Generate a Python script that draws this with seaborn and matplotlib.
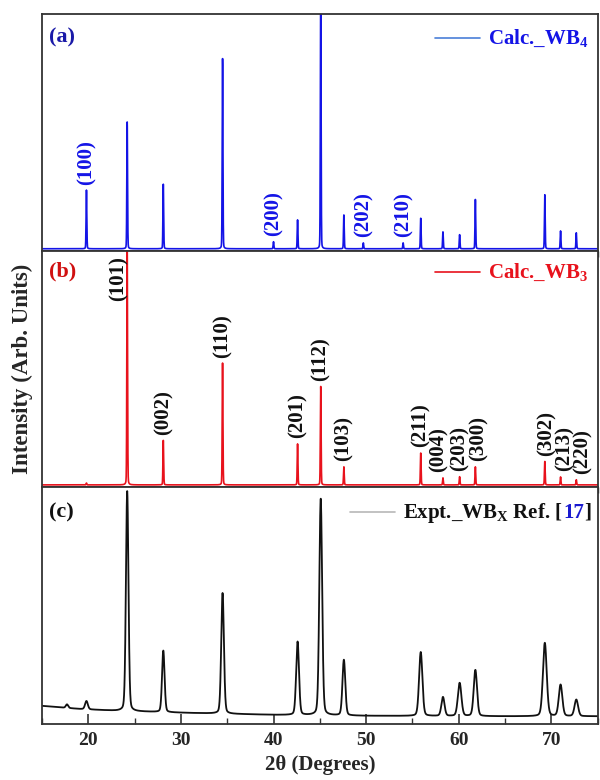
import numpy as np
import pandas as pd
import matplotlib
matplotlib.use('Agg')
import matplotlib.pyplot as plt
from matplotlib.ticker import MultipleLocator
import seaborn as sns

# Peak positions (2theta, deg) and heights (arb. units, 0-100 per panel)
pos_wb4 = [19.8, 24.2, 28.1, 34.5, 40.0, 42.6, 45.1, 47.6, 49.7, 54.0, 55.9, 58.3, 60.1, 61.8, 69.3, 71.0, 72.7]
int_wb4 = [25, 54, 27.5, 81, 3, 12.3, 110, 14.4, 2.5, 2.5, 13, 7.2, 6, 21, 23, 7.6, 6.8]
hkl_wb4 = ['(100)', '(200)', '(202)', '(210)']
hkl_wb4_pos = [19.8, 40.0, 49.7, 54.0]
hkl_wb4_int = [25, 3, 2.5, 2.5]

pos_wb3 = [19.8, 24.2, 28.1, 34.5, 42.6, 45.1, 47.6, 55.9, 58.3, 60.1, 61.8, 69.3, 71.0, 72.7]
int_wb3 = [0.8, 102, 19, 52, 17.5, 42, 7.7, 13.6, 3, 3.5, 7.7, 10, 3.4, 2.2]
hkl_wb3 = ['(101)', '(002)', '(110)', '(201)', '(112)', '(103)', '(211)',
           '(004)', '(203)', '(300)', '(302)', '(213)', '(220)']
hkl_wb3_pos = [24.2, 28.1, 34.5, 42.6, 45.1, 47.6, 55.9, 58.3, 60.1, 61.8, 69.3, 71.0, 72.7]
hkl_wb3_int = [100, 19, 52, 17.5, 42, 7.7, 13.6, 3, 3.5, 7.7, 10, 3.4, 2.2]

pos_exp = [17.7, 19.8, 24.2, 28.1, 34.5, 42.6, 45.1, 47.6, 55.9, 58.3, 60.1, 61.8, 69.3, 71.0, 72.7]
int_exp = [1.5, 3.5, 93, 26, 51, 31, 91.5, 23.5, 27, 8, 14, 19.5, 31, 13.3, 7]
fwhm_exp = [0.3, 0.35, 0.32, 0.32, 0.34, 0.36, 0.36, 0.36, 0.42, 0.4, 0.45, 0.42, 0.48, 0.45, 0.45]
bg_x = [15, 19, 23, 31, 40, 50, 65, 75]
bg_y = [7.6, 6.3, 5.5, 4.6, 3.8, 3.4, 3.2, 3.2]

tth = np.arange(15, 75.001, 0.01)


def pseudo_voigt(x, pos, heights, fwhm, eta):
    y = np.zeros_like(x)
    fwhm = np.broadcast_to(fwhm, len(pos))
    for p, h, w in zip(pos, heights, fwhm):
        g = np.exp(-4 * np.log(2) * ((x - p) / w) ** 2)
        l = 1 / (1 + 4 * ((x - p) / w) ** 2)
        y += h * (eta * l + (1 - eta) * g)
    return y


df = pd.DataFrame({
    'tth': tth,
    'wb4': pseudo_voigt(tth, pos_wb4, int_wb4, 0.09, 0.15),
    'wb3': pseudo_voigt(tth, pos_wb3, int_wb3, 0.09, 0.15),
    'exp': pseudo_voigt(tth, pos_exp, int_exp, fwhm_exp, 0.2) + np.interp(tth, bg_x, bg_y),
})

sns.set_theme(style='ticks')
plt.rcParams['font.family'] = ['Liberation Serif', 'DejaVu Serif']
plt.rcParams['font.weight'] = 'bold'
plt.rcParams['mathtext.fontset'] = 'custom'
plt.rcParams['mathtext.bf'] = 'Liberation Serif:bold'
plt.rcParams['mathtext.rm'] = 'Liberation Serif:bold'
plt.rcParams['mathtext.default'] = 'bf'

fig, (ax1, ax2, ax3) = plt.subplots(3, 1, figsize=(6, 7.8), dpi=100, sharex=True)
fig.subplots_adjust(left=0.07, right=0.996, top=0.982, bottom=0.072, hspace=0)

blue, red, black = '#1414e6', '#e8121c', '#111111'

sns.lineplot(data=df, x='tth', y='wb4', ax=ax1, color=blue, lw=1.2)
sns.lineplot(data=df, x='tth', y='wb3', ax=ax2, color=red, lw=1.2)
sns.lineplot(data=df, x='tth', y='exp', ax=ax3, color=black, lw=1.3)

ax1.set_ylim(-0.8, 100)
ax2.set_ylim(-1, 100)
ax3.set_ylim(0, 100)
ax3.set_xlim(15, 75)

for ax in (ax1, ax2, ax3):
    ax.set_xlabel('')
    ax.set_ylabel('')
    ax.set_yticks([])
    for s in ax.spines.values():
        s.set_color('#333333')
        s.set_linewidth(1.3)
for ax in (ax1, ax2):
    ax.tick_params(axis='x', bottom=False, labelbottom=False)

ax3.xaxis.set_major_locator(MultipleLocator(10))
ax3.xaxis.set_minor_locator(MultipleLocator(5))
ax3.tick_params(axis='x', which='major', direction='in', length=7, width=1.2,
                labelsize=14, pad=6, color='#333333')
ax3.tick_params(axis='x', which='minor', direction='in', length=4, width=1.0, color='#333333')
for t in ax3.get_xticklabels():
    t.set_fontweight('bold')
ax3.set_xlabel('2θ (Degrees)', fontsize=15, fontweight='bold', labelpad=4)
fig.text(0.037, 0.527, 'Intensity (Arb. Units)', rotation=90, ha='center', va='center',
         fontsize=16.5, fontweight='bold')

# hkl labels (small sideways nudges, in points, where they crowd)
lab_fs = 15
nudge_wb3 = {'(101)': (-6, -4), '(004)': (-3, 4), '(300)': (2.5, 4),
             '(302)': (1, 4), '(213)': (3, 4), '(220)': (4.5, 4)}
for lab, x, h in zip(hkl_wb4, hkl_wb4_pos, hkl_wb4_int):
    ax1.annotate(lab, (x, h), xytext=(0, 4), textcoords='offset points', rotation=90,
                 ha='center', va='bottom', fontsize=lab_fs, fontweight='bold', color=blue)
for lab, x, h in zip(hkl_wb3, hkl_wb3_pos, hkl_wb3_int):
    off = nudge_wb3.get(lab, (0, 4))
    ax2.annotate(lab, (x, h), xytext=off, textcoords='offset points', rotation=90,
                 ha='center', va='top' if lab == '(101)' else 'bottom',
                 fontsize=lab_fs, fontweight='bold', color=black)

# panel tags and legends
panels = [(ax1, '(a)', '#1a1aa8', 0.90, 'Calc._WB$_4$', '#4a7fd8', blue, 0.708),
          (ax2, '(b)', '#d01010', 0.91, 'Calc._WB$_3$', red, red, 0.708),
          (ax3, '(c)', black, 0.895, 'Expt._WB$_X$ Ref. [', '#b8b8b8', black, 0.555)]
for ax, tag, tcol, yy, leg, lcol, txtcol, x0 in panels:
    ax.text(0.012, yy, tag, transform=ax.transAxes, ha='left', va='center',
            fontsize=16, fontweight='bold', color=tcol)
    ax.plot([x0, x0 + 0.08], [yy, yy], transform=ax.transAxes, color=lcol, lw=1.2)
    t = ax.text(x0 + 0.095, yy - 0.025, leg, transform=ax.transAxes, ha='left', va='baseline',
                fontsize=15, fontweight='bold', color=txtcol)
    if tag == '(c)':
        fig.canvas.draw()
        r = fig.canvas.get_renderer()
        xe = ax.transAxes.inverted().transform(t.get_window_extent(r))[1, 0]
        t2 = ax.text(xe, yy - 0.025, '17', transform=ax.transAxes, ha='left', va='baseline',
                     fontsize=15, fontweight='bold', color='#1a1ad0')
        xe = ax.transAxes.inverted().transform(t2.get_window_extent(r))[1, 0]
        ax.text(xe, yy - 0.025, ']', transform=ax.transAxes, ha='left', va='baseline',
                fontsize=15, fontweight='bold', color=black)

fig.savefig('out.png', dpi=100)
